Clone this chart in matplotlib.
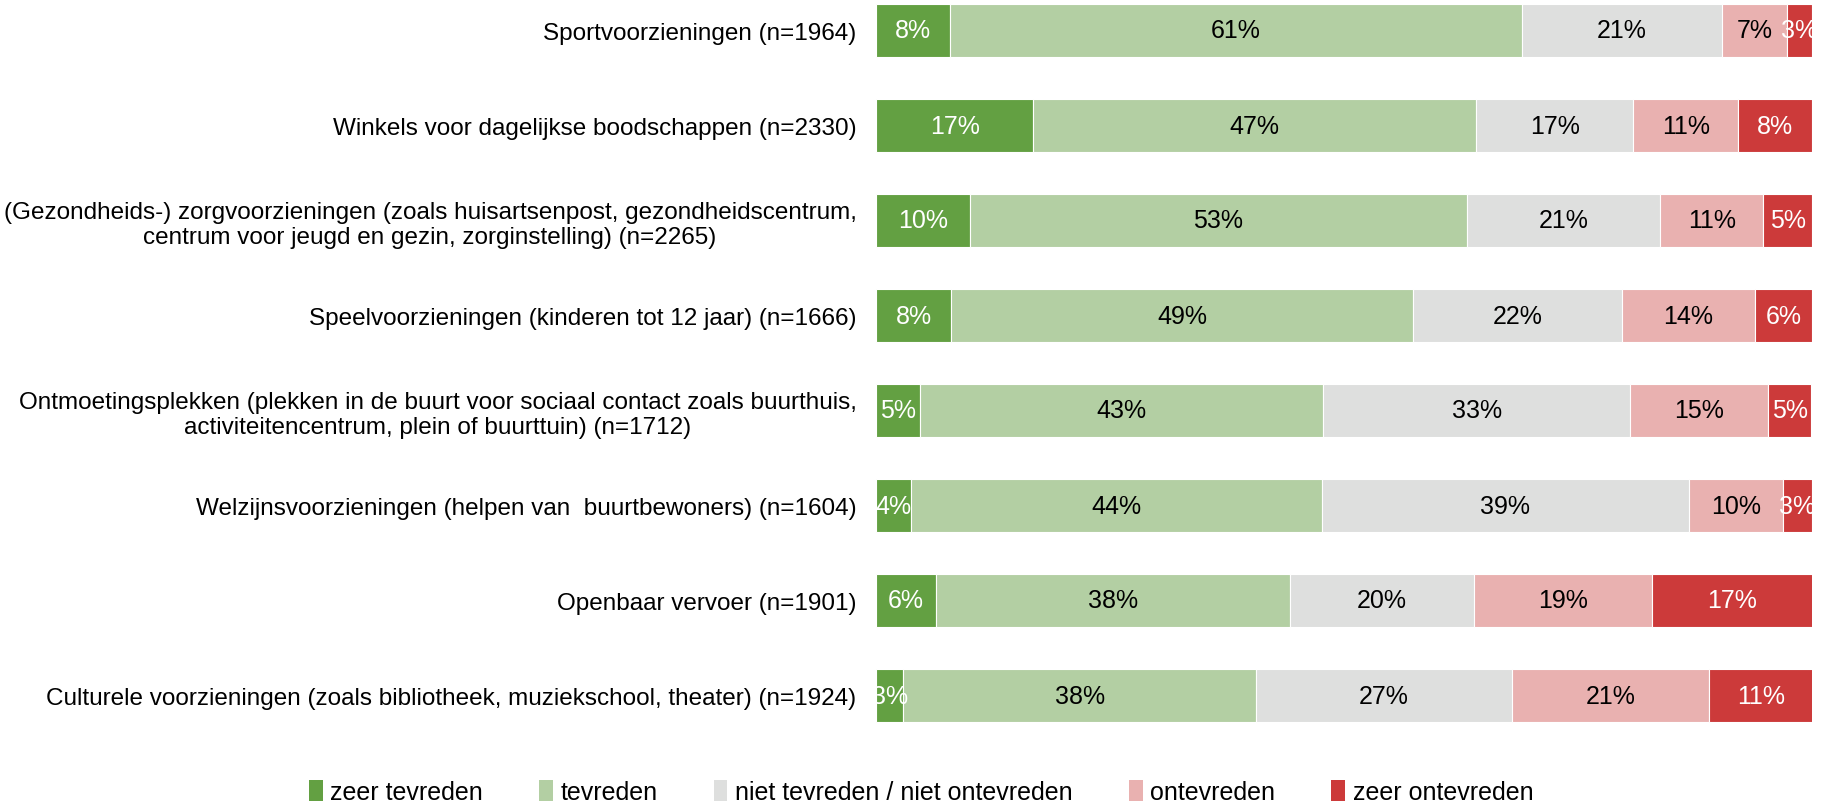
import matplotlib
matplotlib.use("Agg")
import matplotlib.pyplot as plt
from matplotlib.patches import Patch

plt.rcParams['font.family'] = ['Liberation Sans', 'DejaVu Sans']

categories = [
    "Sportvoorzieningen (n=1964)",
    "Winkels voor dagelijkse boodschappen (n=2330)",
    "(Gezondheids-) zorgvoorzieningen (zoals huisartsenpost, gezondheidscentrum,\ncentrum voor jeugd en gezin, zorginstelling) (n=2265)",
    "Speelvoorzieningen (kinderen tot 12 jaar) (n=1666)",
    "Ontmoetingsplekken (plekken in de buurt voor sociaal contact zoals buurthuis,\nactiviteitencentrum, plein of buurttuin) (n=1712)",
    "Welzijnsvoorzieningen (helpen van  buurtbewoners) (n=1604)",
    "Openbaar vervoer (n=1901)",
    "Culturele voorzieningen (zoals bibliotheek, muziekschool, theater) (n=1924)",
]

series_names = ["zeer tevreden", "tevreden", "niet tevreden / niet ontevreden",
                "ontevreden", "zeer ontevreden"]

zeer_tevreden = [7.9, 16.8, 10.0, 8.0, 4.7, 3.7, 6.4, 2.9]
tevreden = [61.1, 47.3, 53.1, 49.4, 43.1, 43.9, 37.8, 37.7]
neutraal = [21.4, 16.8, 20.7, 22.3, 32.8, 39.3, 19.7, 27.3]
ontevreden = [6.9, 11.2, 11.0, 14.2, 14.7, 10.0, 19.0, 21.1]
zeer_ontevreden = [2.7, 7.9, 5.2, 6.1, 4.6, 3.1, 17.2, 11.1]

series = [zeer_tevreden, tevreden, neutraal, ontevreden, zeer_ontevreden]
colors = ["#63A042", "#B3CFA3", "#DEDFDE", "#E9B1B0", "#CC3A3A"]
text_colors = ["white", "black", "black", "black", "white"]

fig = plt.figure(figsize=(18.31, 8.03), dpi=100)
ax = fig.add_axes([876/1831, 1-725/803, (1812-876)/1831, (725-3)/803])

y = list(range(len(categories)))
left = [0.0]*len(categories)
for vals, col, tc, name in zip(series, colors, text_colors, series_names):
    ax.barh(y, vals, left=left, height=0.55, color=col, edgecolor='white',
            linewidth=0.8, label=name)
    for yi, v, l in zip(y, vals, left):
        ax.text(l + v/2, yi, f"{round(v):.0f}%", ha='center', va='center',
                color=tc, fontsize=18)
    left = [a + b for a, b in zip(left, vals)]

ax.set_xlim(0, 100)
ax.set_ylim(7.3, -0.3)
ax.set_yticks(y)
ax.set_yticklabels(categories, fontsize=17.5, multialignment='center')
ax.tick_params(axis='y', length=0, pad=14)
ax.set_xticks([])
for s in ax.spines.values():
    s.set_visible(False)

handles = [Patch(facecolor=c, label=n) for c, n in zip(colors, series_names)]
fig.legend(handles=handles, loc='center', bbox_to_anchor=(0.503, 0.012), ncol=5,
           frameon=False, fontsize=18, handlelength=0.55, handleheight=0.9,
           handletextpad=0.3, columnspacing=2.25)

fig.savefig("out.png", dpi=100)
